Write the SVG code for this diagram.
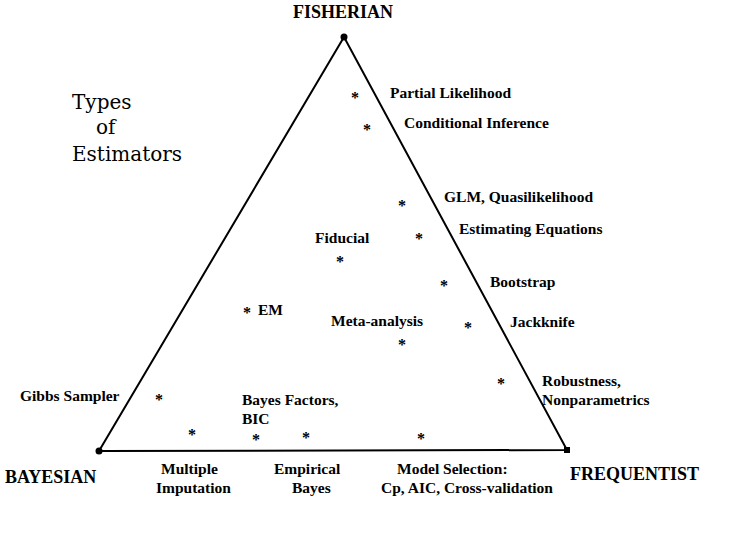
<svg xmlns="http://www.w3.org/2000/svg" width="750" height="550" viewBox="0 0 750 550">
<style>
text{font-family:"Liberation Serif","Times New Roman",serif;font-weight:bold;font-size:15.5px;fill:#000}
.big{font-size:18px}
.title{font-family:"DejaVu Serif","Liberation Serif",serif;font-size:20px;font-weight:normal}
.ast{font-size:16px}
</style>
<rect width="750" height="550" fill="#fff"/>
<g id="connectors">
<polygon points="344,37 99,451 567,450" fill="none" stroke="#000" stroke-width="2"/>
</g>
<g id="vertices">
<circle cx="344" cy="37" r="3.5"/>
<circle cx="99" cy="451" r="3.5"/>
<rect x="564" y="447" width="6" height="6"/>
</g>
<g id="fisherian"><text class="big" x="343" y="18" text-anchor="middle">FISHERIAN</text></g>
<g id="bayesian"><text class="big" x="5" y="483">BAYESIAN</text></g>
<g id="frequentist"><text class="big" x="570" y="480">FREQUENTIST</text></g>
<g id="title">
<text class="title" x="72" y="109">Types</text>
<text class="title" x="96" y="134">of</text>
<text class="title" x="72" y="161">Estimators</text>
</g>
<g id="partial"><text class="ast" x="351" y="103">*</text><text x="390" y="98">Partial Likelihood</text></g>
<g id="conditional"><text class="ast" x="363" y="135">*</text><text x="404" y="128">Conditional Inference</text></g>
<g id="glm"><text class="ast" x="398" y="211">*</text><text x="444" y="202">GLM, Quasilikelihood</text></g>
<g id="estimating"><text class="ast" x="415" y="244">*</text><text x="459" y="234">Estimating Equations</text></g>
<g id="fiducial"><text x="315" y="243">Fiducial</text><text class="ast" x="336" y="267">*</text></g>
<g id="bootstrap"><text class="ast" x="440" y="291">*</text><text x="490" y="287">Bootstrap</text></g>
<g id="em"><text class="ast" x="243" y="318">*</text><text x="258" y="315">EM</text></g>
<g id="meta"><text x="331" y="326">Meta-analysis</text><text class="ast" x="398" y="350">*</text></g>
<g id="jackknife"><text class="ast" x="464" y="333">*</text><text x="510" y="327">Jackknife</text></g>
<g id="robust"><text class="ast" x="497" y="389">*</text><text x="542" y="386">Robustness,</text><text x="542" y="405">Nonparametrics</text></g>
<g id="gibbs"><text x="20" y="401">Gibbs Sampler</text><text class="ast" x="155" y="405">*</text></g>
<g id="bayesfactors"><text x="242" y="405">Bayes Factors,</text><text x="242" y="424">BIC</text></g>
<g id="multiple"><text class="ast" x="188" y="440">*</text><text x="161" y="474">Multiple</text><text x="156" y="493">Imputation</text></g>
<g id="ast256"><text class="ast" x="252" y="445">*</text></g>
<g id="empirical"><text class="ast" x="302" y="443">*</text><text x="274" y="474">Empirical</text><text x="292" y="493">Bayes</text></g>
<g id="modelsel"><text class="ast" x="417" y="444">*</text><text x="397" y="474">Model Selection:</text><text x="381" y="493">Cp, AIC, Cross-validation</text></g>
</svg>
